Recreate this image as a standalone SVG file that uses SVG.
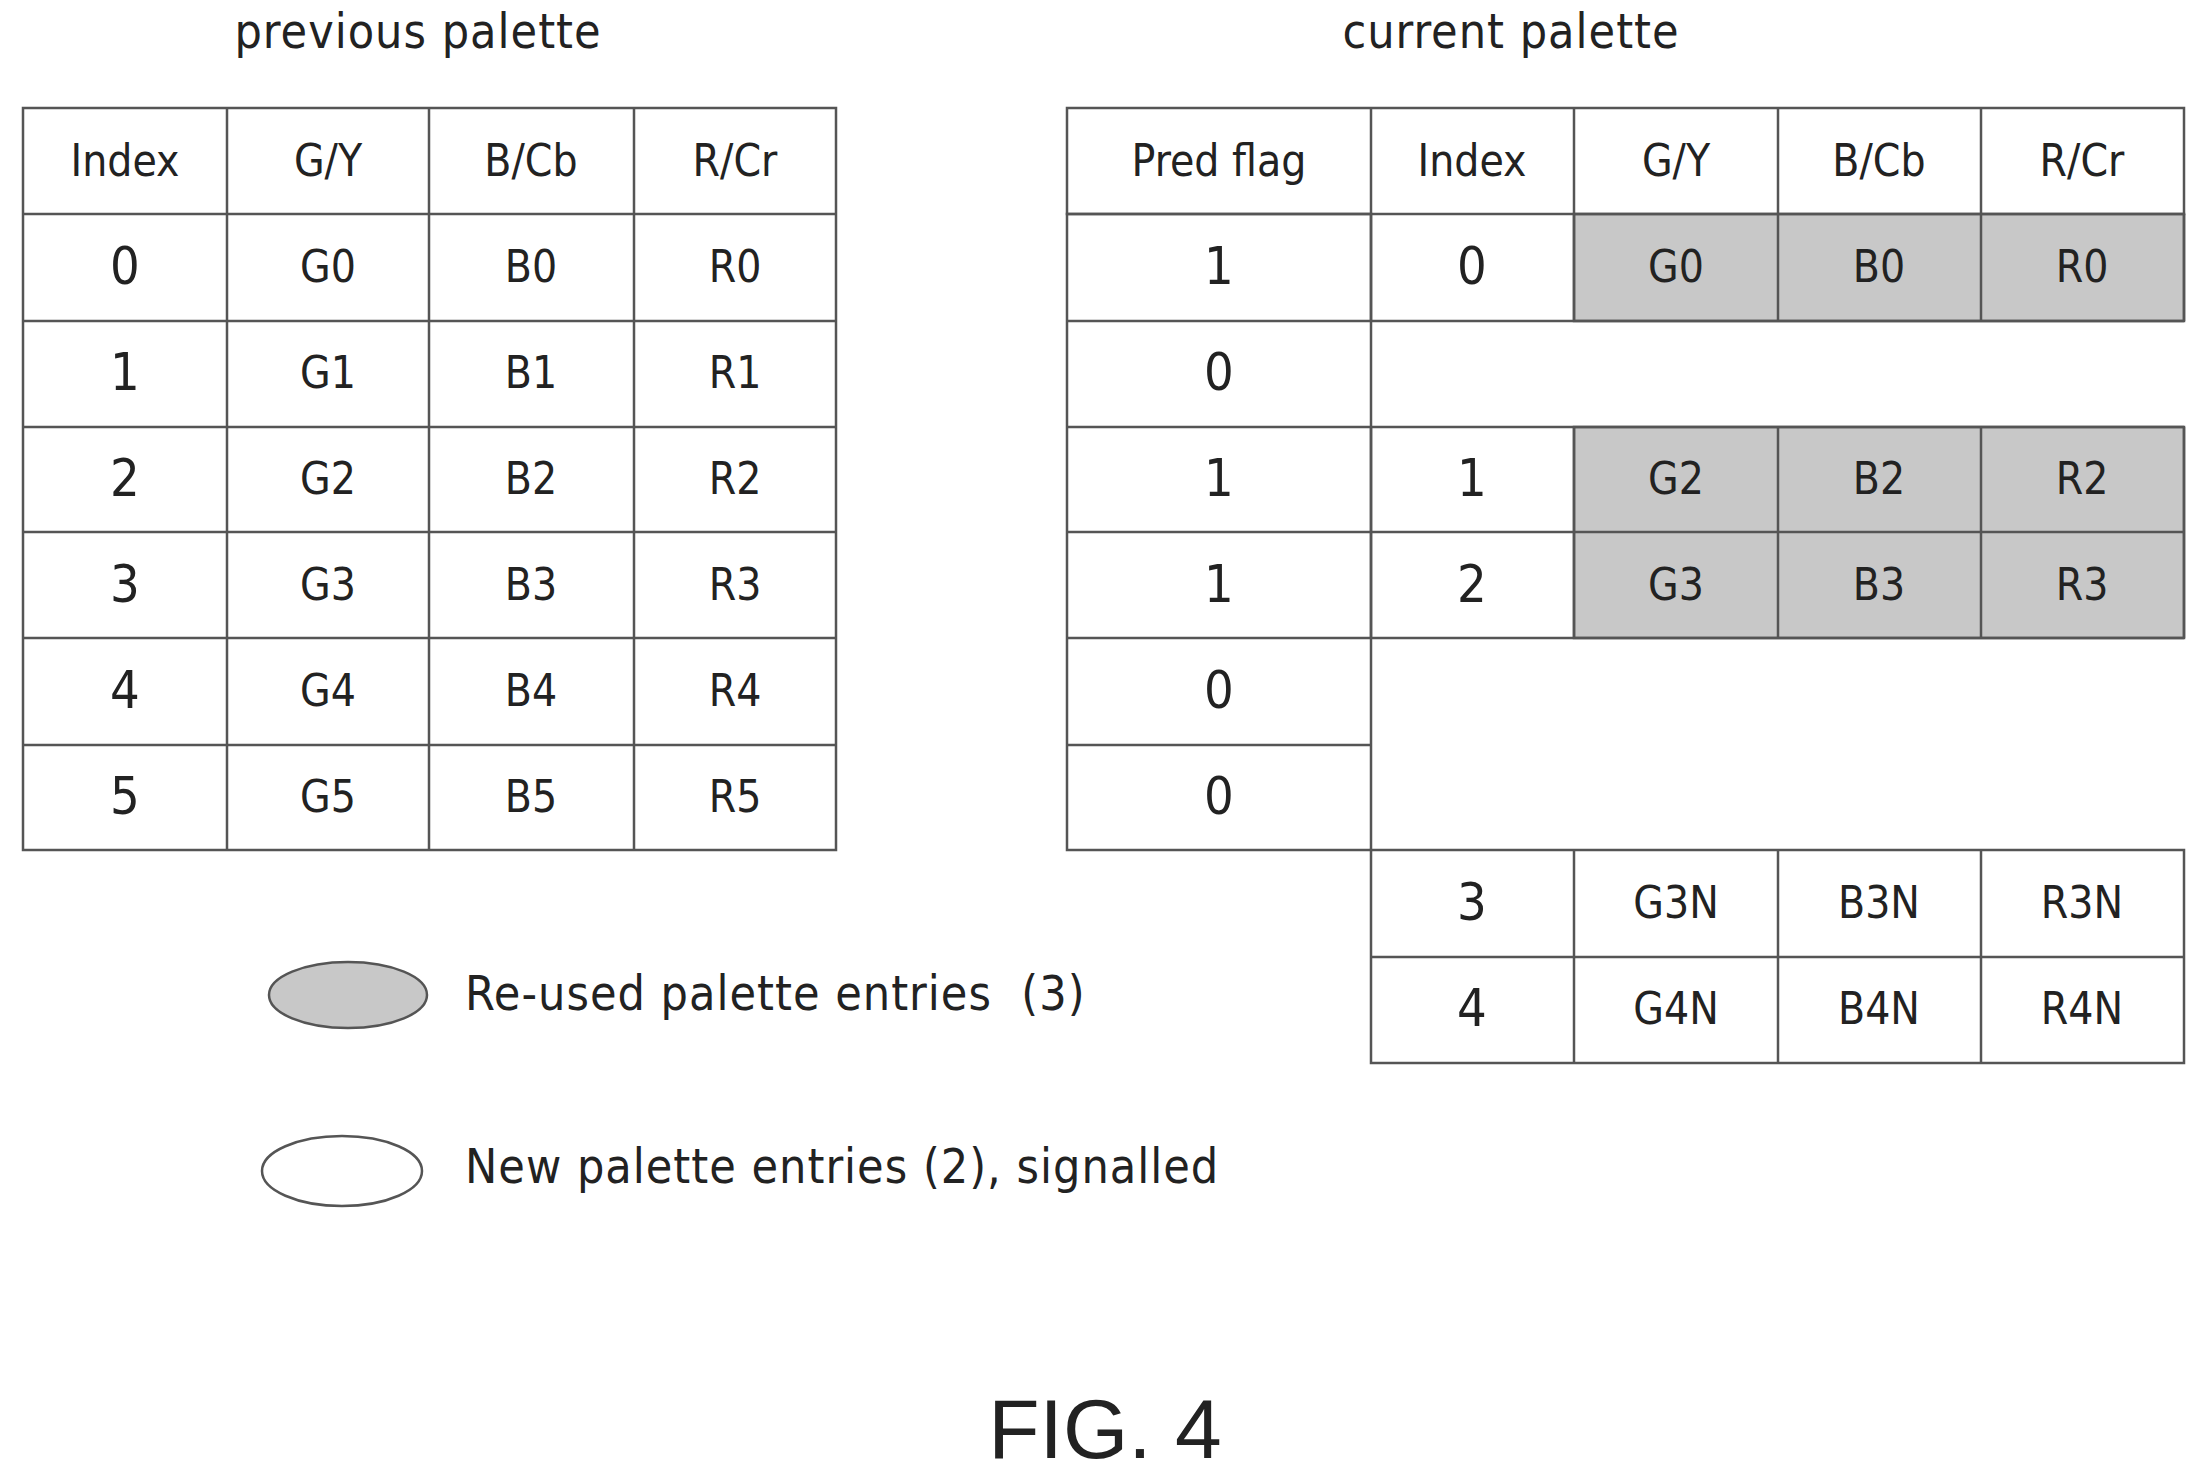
<svg xmlns="http://www.w3.org/2000/svg" width="2208" height="1480" viewBox="0 0 2208 1480">
<style>
text{font-family:"DejaVu Sans Condensed","Liberation Sans",sans-serif;fill:#222;text-anchor:middle;dominant-baseline:central}
.c{font-size:44px}
.d{font-size:52px}
.t{font-size:48px;letter-spacing:1px}
.l{text-anchor:start}
line,rect,ellipse{stroke:#555;stroke-width:2.5}
.g{fill:#c8c8c8}
.bg{stroke:none}
</style>
<rect class="bg" width="2208" height="1480" fill="#fff"/>
<text class="t" x="418" y="31">previous palette</text>
<text class="t" x="1511" y="31">current palette</text>
<g id="prev">
<rect x="23" y="108" width="813" height="742" fill="none"/>
<line x1="227" y1="108" x2="227" y2="850"/><line x1="429" y1="108" x2="429" y2="850"/><line x1="634" y1="108" x2="634" y2="850"/>
<line x1="23" y1="214" x2="836" y2="214"/><line x1="23" y1="321" x2="836" y2="321"/><line x1="23" y1="427" x2="836" y2="427"/><line x1="23" y1="532" x2="836" y2="532"/><line x1="23" y1="638" x2="836" y2="638"/><line x1="23" y1="745" x2="836" y2="745"/>
<text class="c" x="125" y="160">Index</text><text class="c" x="328" y="160">G/Y</text><text class="c" x="531" y="160">B/Cb</text><text class="c" x="735" y="160">R/Cr</text>
<text class="d" x="125" y="266">0</text><text class="c" x="328" y="266">G0</text><text class="c" x="531" y="266">B0</text><text class="c" x="735" y="266">R0</text>
<text class="d" x="125" y="372">1</text><text class="c" x="328" y="372">G1</text><text class="c" x="531" y="372">B1</text><text class="c" x="735" y="372">R1</text>
<text class="d" x="125" y="478">2</text><text class="c" x="328" y="478">G2</text><text class="c" x="531" y="478">B2</text><text class="c" x="735" y="478">R2</text>
<text class="d" x="125" y="584">3</text><text class="c" x="328" y="584">G3</text><text class="c" x="531" y="584">B3</text><text class="c" x="735" y="584">R3</text>
<text class="d" x="125" y="690">4</text><text class="c" x="328" y="690">G4</text><text class="c" x="531" y="690">B4</text><text class="c" x="735" y="690">R4</text>
<text class="d" x="125" y="796">5</text><text class="c" x="328" y="796">G5</text><text class="c" x="531" y="796">B5</text><text class="c" x="735" y="796">R5</text>
</g>
<g id="cur">
<rect class="g" x="1574" y="214" width="610" height="107"/>
<rect class="g" x="1574" y="427" width="610" height="211"/>
<rect x="1067" y="108" width="1117" height="106" fill="none"/>
<rect x="1067" y="214" width="304" height="636" fill="none"/>
<rect x="1371" y="850" width="813" height="213" fill="none"/>
<line x1="1371" y1="108" x2="1371" y2="321"/><line x1="1574" y1="108" x2="1574" y2="321"/><line x1="1778" y1="108" x2="1778" y2="321"/><line x1="1981" y1="108" x2="1981" y2="321"/>
<line x1="1371" y1="427" x2="1371" y2="638"/><line x1="1574" y1="427" x2="1574" y2="638"/><line x1="1778" y1="427" x2="1778" y2="638"/><line x1="1981" y1="427" x2="1981" y2="638"/>
<line x1="1371" y1="321" x2="2184" y2="321"/><line x1="2184" y1="214" x2="2184" y2="321"/><line x1="2184" y1="427" x2="2184" y2="638"/>
<line x1="1067" y1="427" x2="2184" y2="427"/><line x1="1067" y1="532" x2="2184" y2="532"/><line x1="1067" y1="638" x2="2184" y2="638"/>
<line x1="1067" y1="321" x2="1371" y2="321"/><line x1="1067" y1="745" x2="1371" y2="745"/>
<line x1="1574" y1="850" x2="1574" y2="1063"/><line x1="1778" y1="850" x2="1778" y2="1063"/><line x1="1981" y1="850" x2="1981" y2="1063"/><line x1="1371" y1="957" x2="2184" y2="957"/>
<text class="c" x="1219" y="160">Pred flag</text><text class="c" x="1472" y="160">Index</text><text class="c" x="1676" y="160">G/Y</text><text class="c" x="1879" y="160">B/Cb</text><text class="c" x="2082" y="160">R/Cr</text>
<text class="d" x="1219" y="266">1</text><text class="d" x="1472" y="266">0</text><text class="c" x="1676" y="266">G0</text><text class="c" x="1879" y="266">B0</text><text class="c" x="2082" y="266">R0</text>
<text class="d" x="1219" y="372">0</text>
<text class="d" x="1219" y="478">1</text><text class="d" x="1472" y="478">1</text><text class="c" x="1676" y="478">G2</text><text class="c" x="1879" y="478">B2</text><text class="c" x="2082" y="478">R2</text>
<text class="d" x="1219" y="584">1</text><text class="d" x="1472" y="584">2</text><text class="c" x="1676" y="584">G3</text><text class="c" x="1879" y="584">B3</text><text class="c" x="2082" y="584">R3</text>
<text class="d" x="1219" y="690">0</text>
<text class="d" x="1219" y="796">0</text>
<text class="d" x="1472" y="902">3</text><text class="c" x="1676" y="902">G3N</text><text class="c" x="1879" y="902">B3N</text><text class="c" x="2082" y="902">R3N</text>
<text class="d" x="1472" y="1008">4</text><text class="c" x="1676" y="1008">G4N</text><text class="c" x="1879" y="1008">B4N</text><text class="c" x="2082" y="1008">R4N</text>
</g>
<g id="legend">
<ellipse class="g" cx="348" cy="995" rx="79" ry="33"/>
<text class="t l" x="465" y="993" xml:space="preserve">Re-used palette entries  (3)</text>
<ellipse cx="342" cy="1171" rx="80" ry="35" fill="#fff"/>
<text class="t l" x="465" y="1166">New palette entries (2), signalled</text>
</g>
<text x="1105" y="1429" style="font-family:'Liberation Sans',Arial,sans-serif;font-size:84px">FIG. 4</text>
</svg>
